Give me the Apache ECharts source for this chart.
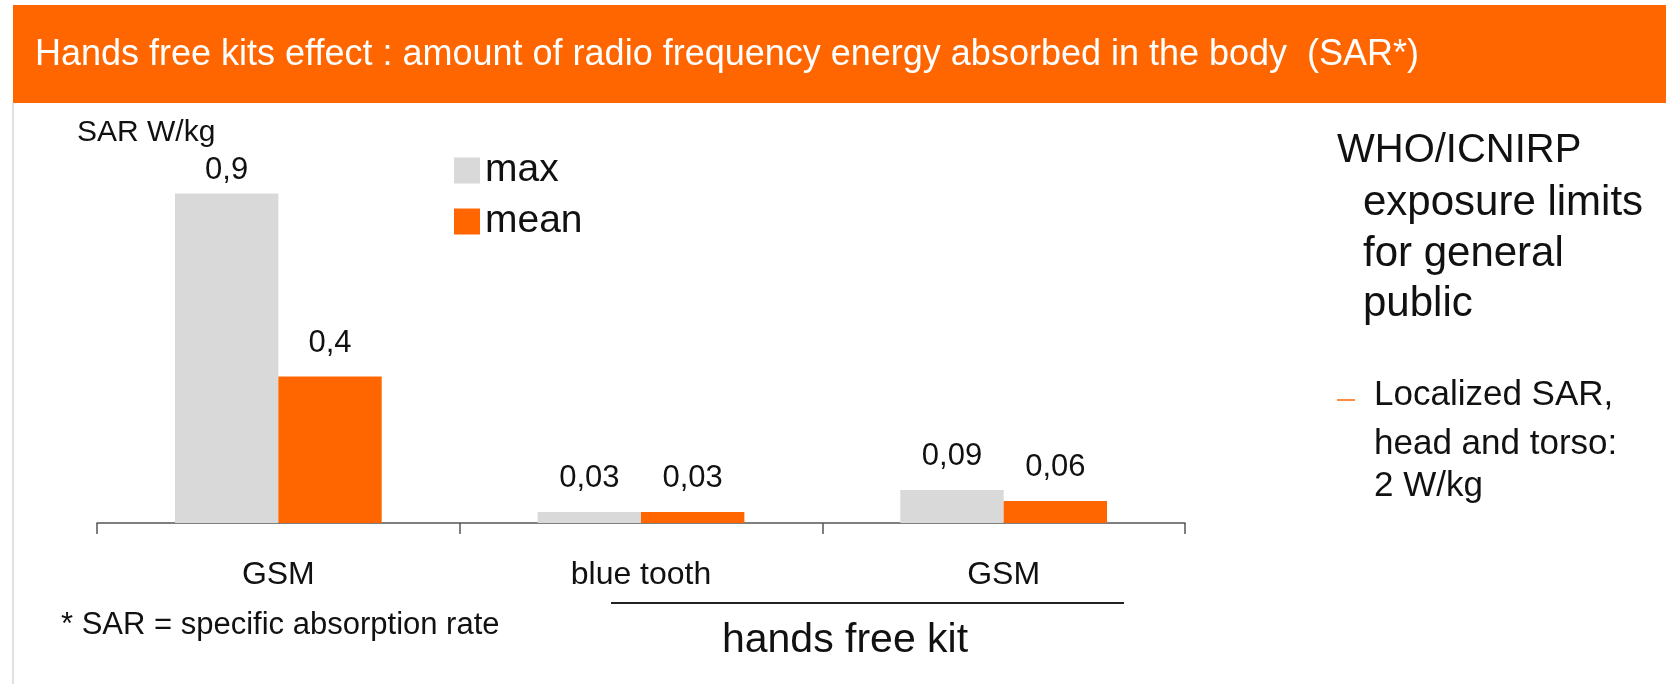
<!DOCTYPE html>
<html>
<head>
<meta charset="utf-8">
<script src="https://cdn.jsdelivr.net/npm/echarts@6/dist/echarts.min.js"></script>
<style>
html,body{margin:0;padding:0;background:#fff;}
#chart{width:1666px;height:684px;}
</style>
</head>
<body>
<div id="chart"></div>
<script>
const categories = ['GSM', 'blue tooth', 'GSM'];
const seriesNames = ['max', 'mean'];
const maxValues = [0.9, 0.03, 0.09];
const meanValues = [0.4, 0.03, 0.06];
const titleText = 'Hands free kits effect : amount of radio frequency energy absorbed in the body  (SAR*)';
const yAxisName = 'SAR W/kg';
const groupLabel = 'hands free kit';
const footnote = '* SAR = specific absorption rate';
const sideTitle = ['WHO/ICNIRP', 'exposure limits', 'for general', 'public'];
const sideItem = ['Localized SAR,', 'head and torso:', '2 W/kg'];

const FONT = '"Liberation Sans", Arial, Helvetica, sans-serif';
const ORANGE = '#FF6600';
const GREY = '#D9D9D9';
const TXT = '#111111';

const chart = echarts.init(document.getElementById('chart'));

function fmt(p){ return String(p.value).replace('.', ','); }
function mk(vals){
  return vals.map(v => ({ value: v, label: { distance: v > 0.5 ? 8 : 18 } }));
}

const graphics = [
  { type: 'rect', shape: { x: 13, y: 5, width: 1653, height: 98 }, style: { fill: ORANGE }, silent: true },
  { type: 'text', x: 35, y: 55, style: { text: titleText, fill: '#fff', font: '36px ' + FONT, verticalAlign: 'middle' } },
  { type: 'line', shape: { x1: 13, y1: 103, x2: 13, y2: 684 }, style: { stroke: '#e0e0e0', lineWidth: 2 } },
  { type: 'text', x: 77, y: 133, style: { text: yAxisName, fill: TXT, font: '30px ' + FONT, verticalAlign: 'middle' } },
  { type: 'line', shape: { x1: 611, y1: 603, x2: 1124, y2: 603 }, style: { stroke: '#222', lineWidth: 2 } },
  { type: 'text', x: 845, y: 641, style: { text: groupLabel, fill: TXT, font: '41px ' + FONT, align: 'center', verticalAlign: 'middle' } },
  { type: 'text', x: 61, y: 625, style: { text: footnote, fill: TXT, font: '31px ' + FONT, verticalAlign: 'middle' } },
  { type: 'line', shape: { x1: 1337, y1: 400, x2: 1355, y2: 400 }, style: { stroke: ORANGE, lineWidth: 1.5 } }
];
const sideX = [1337, 1363, 1363, 1363];
const sideY = [151, 203, 254, 304];
const sideFs = [40, 42, 42, 42];
sideTitle.forEach((t, i) => {
  graphics.push({ type: 'text', x: sideX[i], y: sideY[i], style: { text: t, fill: TXT, font: sideFs[i] + 'px ' + FONT, verticalAlign: 'middle' } });
});
const itemY = [395, 444, 486];
sideItem.forEach((t, i) => {
  graphics.push({ type: 'text', x: 1374, y: itemY[i], style: { text: t, fill: TXT, font: '35px ' + FONT, verticalAlign: 'middle' } });
});

const option = {
  animation: false,
  backgroundColor: '#fff',
  textStyle: { fontFamily: FONT },
  legend: {
    orient: 'vertical', left: 449, top: 146, itemWidth: 26, itemHeight: 26, itemGap: 12,
    icon: 'rect', data: seriesNames,
    textStyle: { fontSize: 39, color: TXT, fontFamily: FONT }
  },
  grid: { left: 97, right: 481, top: 157, bottom: 161, containLabel: false },
  xAxis: {
    type: 'category', data: categories,
    axisLine: { lineStyle: { color: '#555', width: 1.5 } },
    axisTick: { show: true, length: 11, lineStyle: { color: '#555', width: 1.5 } },
    axisLabel: { fontSize: 32, color: TXT, margin: 36, fontFamily: FONT }
  },
  yAxis: { type: 'value', min: 0, max: 1, show: false, splitLine: { show: false } },
  series: [
    {
      name: seriesNames[0], type: 'bar', data: mk(maxValues), barGap: '0%', barCategoryGap: '43%',
      itemStyle: { color: GREY },
      label: { show: true, position: 'top', formatter: fmt, fontSize: 31, color: TXT, fontFamily: FONT }
    },
    {
      name: seriesNames[1], type: 'bar', data: mk(meanValues), barGap: '0%', barCategoryGap: '43%',
      itemStyle: { color: ORANGE },
      label: { show: true, position: 'top', formatter: fmt, fontSize: 31, color: TXT, fontFamily: FONT }
    }
  ],
  graphic: graphics
};
chart.setOption(option);
</script>
</body>
</html>
